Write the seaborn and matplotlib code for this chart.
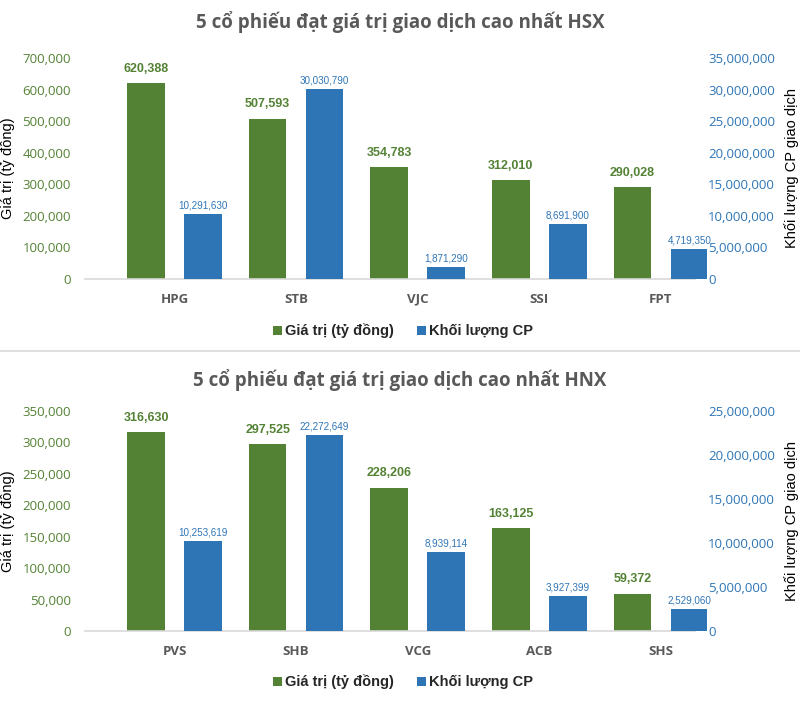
import matplotlib
matplotlib.use("Agg")
import matplotlib.pyplot as plt
import seaborn as sns
import pandas as pd
import numpy as np
from matplotlib.patches import Patch

# ---------------- data ----------------
hsx_codes = ["HPG", "STB", "VJC", "SSI", "FPT"]
hsx_value = [620388, 507593, 354783, 312010, 290028]
hsx_volume = [10291630, 30030790, 1871290, 8691900, 4719350]

hnx_codes = ["PVS", "SHB", "VCG", "ACB", "SHS"]
hnx_value = [316630, 297525, 228206, 163125, 59372]
hnx_volume = [10253619, 22272649, 8939114, 3927399, 2529060]

titles = ["5 cổ phiếu đạt giá trị giao dịch cao nhất HSX",
          "5 cổ phiếu đạt giá trị giao dịch cao nhất HNX"]
left_label = "Giá trị (tỷ đồng)"
right_label = "Khối lượng CP giao dịch"
series = ["Giá trị (tỷ đồng)", "Khối lượng CP"]

left_max = [700000, 350000]
left_step = [100000, 50000]
right_max = [35000000, 25000000]
right_step = [5000000, 5000000]

GREEN = "#548235"
BLUE = "#2E75B6"
GREY = "#595959"

sns.set_theme(style="white")
plt.rcParams["font.family"] = ["Open Sans", "DejaVu Sans"]

fig = plt.figure(figsize=(8, 7.18), dpi=100)
W, H = 800, 718


def axes_rect(top_px, bottom_px, left_px=85, right_px=707):
    return [left_px / W, 1 - bottom_px / H, (right_px - left_px) / W, (bottom_px - top_px) / H]


panels = [
    (hsx_codes, hsx_value, hsx_volume, 58, 279, 22, 331),
    (hnx_codes, hnx_value, hnx_volume, 411, 631, 380, 682),
]

XMIN, XMAX = -0.736, 4.379
fmt = matplotlib.ticker.FuncFormatter(lambda v, p: f"{int(v):,}")

for i, (codes, vals, vols, top, bot, title_y, leg_y) in enumerate(panels):
    ax = fig.add_axes(axes_rect(top, bot))
    ax2 = ax.twinx()

    pal = {series[0]: GREEN, series[1]: BLUE}
    nan5 = [np.nan] * len(codes)
    # each axis holds both hue levels so dodging leaves room for the other series
    df_left = pd.DataFrame({"code": codes * 2, "value": list(vals) + nan5,
                            "series": [series[0]] * len(codes) + [series[1]] * len(codes)})
    df_right = pd.DataFrame({"code": codes * 2, "value": nan5 + list(vols),
                             "series": [series[0]] * len(codes) + [series[1]] * len(codes)})

    for a, d in ((ax, df_left), (ax2, df_right)):
        sns.barplot(data=d, x="code", y="value", hue="series", hue_order=series,
                    order=codes, palette=pal, saturation=1, width=0.936, gap=0.34,
                    dodge=True, linewidth=0, legend=False, errorbar=None, ax=a)

    for a in (ax, ax2):
        a.set_xlim(XMIN, XMAX)
        a.set_xlabel("")
        a.set_ylabel("")
        for s in a.spines.values():
            s.set_visible(False)

    ax.set_ylim(0, left_max[i])
    ax2.set_ylim(0, right_max[i])
    ax.set_yticks(range(0, left_max[i] + 1, left_step[i]))
    ax2.set_yticks(range(0, right_max[i] + 1, right_step[i]))
    ax.yaxis.set_major_formatter(fmt)
    ax2.yaxis.set_major_formatter(fmt)
    ax.tick_params(axis="y", length=0, pad=10, labelsize=9.5, labelcolor=GREEN)
    ax2.tick_params(axis="y", length=0, pad=0.8, labelsize=9.5, labelcolor=BLUE)
    ax.tick_params(axis="x", length=0, pad=10, labelsize=9.5, labelcolor=GREY)
    for t in ax.get_xticklabels():
        t.set_fontweight("bold")
    ax2.tick_params(axis="x", length=0, labelbottom=False)

    ax.spines["bottom"].set_visible(True)
    ax.spines["bottom"].set_color("#D9D9D9")
    ax.spines["bottom"].set_linewidth(1.2)
    ax.spines["bottom"].set_bounds(XMIN, 4.28)

    ax.set_ylabel(left_label, fontsize=10.5, color="black",
                  family=["Liberation Sans", "DejaVu Sans"])
    ax.yaxis.set_label_coords((15 - 85) / 622, 0.5)
    ax2.set_ylabel(right_label, fontsize=10.5, color="black",
                   family=["Liberation Sans", "DejaVu Sans"], rotation=90)
    ax2.yaxis.set_label_coords((784 - 85) / 622, 0.5)

    cg = ax.containers[0]
    ax.bar_label(cg, labels=[f"{int(v):,}" for v in cg.datavalues], padding=6,
                 fontsize=9, fontweight="bold", color=GREEN,
                 family=["Liberation Sans", "DejaVu Sans"])
    cb = ax2.containers[1]
    ax2.bar_label(cb, labels=[f"{int(v):,}" for v in cb.datavalues], padding=2.5,
                  fontsize=7.1, color=BLUE,
                  family=["Liberation Sans", "DejaVu Sans"])

    fig.text(0.5, 1 - title_y / H, titles[i], ha="center", va="center",
             fontsize=13.5, fontweight="bold", color=GREY)

    handles = [Patch(facecolor=GREEN, edgecolor="none"), Patch(facecolor=BLUE, edgecolor="none")]
    fig.legend(handles, series, loc="center", bbox_to_anchor=(403 / W, 1 - leg_y / H),
               ncol=2, frameon=False, handlelength=0.6, handleheight=0.6,
               handletextpad=0.2, columnspacing=1.6,
               prop={"family": ["Liberation Sans", "DejaVu Sans"], "weight": "bold", "size": 10.5})

# separator line
fig.add_artist(matplotlib.lines.Line2D([0, 1], [1 - 351 / H, 1 - 351 / H],
                                       color="#D9D9D9", linewidth=1.2))

fig.savefig("out.png", dpi=100)
